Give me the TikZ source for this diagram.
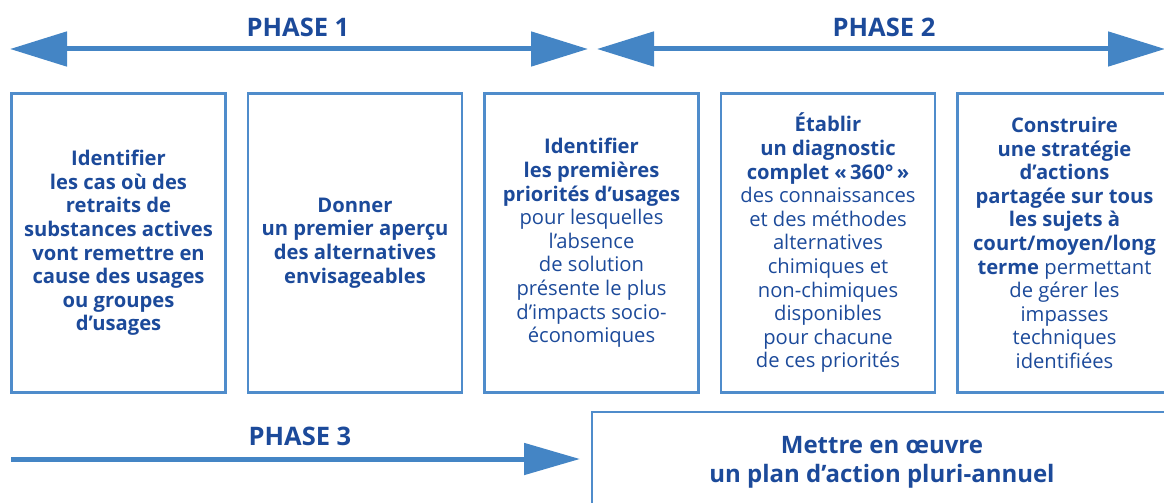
\documentclass[tikz,border=0pt]{standalone}
\usepackage{fontspec}
\setmainfont{Open Sans}
\usetikzlibrary{arrows.meta}
\definecolor{txtblue}{HTML}{1C4A9A}
\definecolor{arrblue}{HTML}{4485C5}
\definecolor{boxblue}{HTML}{4F8CCB}
\tikzset{
  stepbox/.style={draw=boxblue, line width=2.4pt, minimum width=214pt, minimum height=299pt, inner sep=0pt, align=center, text=txtblue, font=\fontsize{20.2}{23.6}\selectfont},
  phaselabel/.style={text=txtblue, font=\fontsize{25.5}{28}\selectfont\bfseries, inner sep=0pt},
  phasearrow/.style={draw=arrblue, line width=5pt, {Triangle[length=57pt,width=34pt]}-{Triangle[length=57pt,width=34pt]}},
  onearrow/.style={draw=arrblue, line width=5pt, -{Triangle[length=56pt,width=31pt]}},
}
\begin{document}
\begin{tikzpicture}[x=1pt,y=-1pt]
\useasboundingbox (0,0) rectangle (1164,503);
\clip (0,0) rectangle (1164,503);
% phase arrows
\coordinate (p1l) at (10,49);
\coordinate (p1r) at (588,49);
\coordinate (p2l) at (597,49);
\coordinate (p2r) at (1165,49);
\coordinate (p3l) at (11,459);
\coordinate (p3r) at (580,459);
\draw[phasearrow] (p1l) -- (p1r);
\draw[phasearrow] (p2l) -- (p2r);
\draw[onearrow] (p3l) -- (p3r);
\node[phaselabel] (ph1) at (298,27) {PHASE 1};
\node[phaselabel] (ph2) at (884,27) {PHASE 2};
\node[phaselabel] (ph3) at (300,436) {PHASE 3};
% boxes
\node[stepbox] (b1) at (118.5,243) {\bfseries Identifier\\\bfseries les cas où des\\\bfseries retraits de\\\bfseries substances actives\\\bfseries vont remettre en\\\bfseries cause des usages\\\bfseries ou groupes\\\bfseries d’usages};
\node[stepbox] (b2) at (355,243) {\bfseries Donner\\\bfseries un premier aperçu\\\bfseries des alternatives\\\bfseries envisageables};
\node[stepbox] (b3) at (591.5,243) {\bfseries Identifier\\\bfseries les premières\\\bfseries priorités d’usages\\pour lesquelles\\l’absence\\de solution\\présente le plus\\d’impacts socio-\\économiques};
\node[stepbox] (b4) at (828,243) {\bfseries Établir\\\bfseries un diagnostic\\\bfseries complet «\,360°\,»\\des connaissances\\et des méthodes\\alternatives\\chimiques et\\non-chimiques\\disponibles\\pour chacune\\de ces priorités};
\node[stepbox] (b5) at (1064.5,243) {\bfseries Construire\\\bfseries une stratégie\\\bfseries d’actions\\\bfseries partagée sur tous\\\bfseries les sujets à\\\bfseries court/moyen/long\\\textbf{terme} permettant\\de gérer les\\impasses\\techniques\\identifiées};
% bottom box
\node[draw=boxblue, line width=2.4pt, minimum width=580pt, minimum height=100pt, inner sep=0pt, align=center, text=txtblue, font=\fontsize{24}{29}\selectfont\bfseries] (plan) at (882,462) {Mettre en œuvre\\un plan d’action pluri-annuel};
\end{tikzpicture}
\end{document}
